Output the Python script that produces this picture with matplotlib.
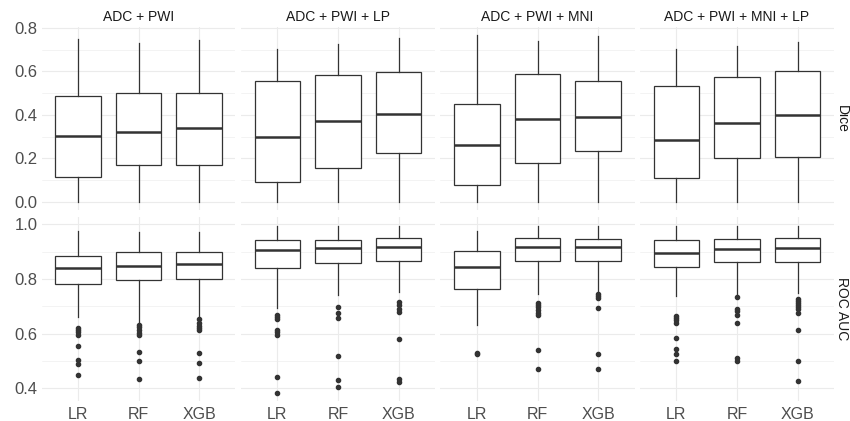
import numpy as np
import matplotlib
matplotlib.use("Agg")
import matplotlib.pyplot as plt

plt.rcParams['font.family'] = ['Liberation Sans', 'DejaVu Sans']

feature_sets = ["ADC + PWI", "ADC + PWI + LP", "ADC + PWI + MNI", "ADC + PWI + MNI + LP"]
models = ["LR", "RF", "XGB"]
metrics = ["Dice", "ROC AUC"]

# Dice box stats, one row per feature set, columns LR / RF / XGB
dice_whislo = [[0.0, 0.0, 0.0], [0.0, 0.0, 0.0], [0.0, 0.0, 0.0], [0.0, 0.0, 0.0]]
dice_q1 = [[0.115, 0.170, 0.170], [0.093, 0.158, 0.227], [0.080, 0.178, 0.236], [0.112, 0.201, 0.208]]
dice_med = [[0.303, 0.323, 0.340], [0.297, 0.374, 0.403], [0.262, 0.382, 0.391], [0.284, 0.362, 0.399]]
dice_q3 = [[0.489, 0.500, 0.500], [0.555, 0.585, 0.599], [0.452, 0.587, 0.558], [0.532, 0.576, 0.601]]
dice_whishi = [[0.748, 0.730, 0.743], [0.702, 0.728, 0.755], [0.766, 0.739, 0.763], [0.703, 0.719, 0.733]]

# ROC AUC box stats
auc_whislo = [[0.662, 0.640, 0.664], [0.693, 0.741, 0.753], [0.633, 0.744, 0.751], [0.739, 0.744, 0.748]]
auc_q1 = [[0.783, 0.796, 0.799], [0.841, 0.860, 0.866], [0.762, 0.865, 0.866], [0.845, 0.862, 0.861]]
auc_med = [[0.840, 0.847, 0.855], [0.906, 0.912, 0.916], [0.843, 0.916, 0.918], [0.895, 0.911, 0.915]]
auc_q3 = [[0.883, 0.898, 0.898], [0.941, 0.944, 0.949], [0.901, 0.951, 0.945], [0.943, 0.946, 0.949]]
auc_whishi = [[0.975, 0.971, 0.971], [0.995, 0.995, 0.995], [0.975, 0.995, 0.995], [0.995, 0.995, 0.995]]
auc_fliers = [
    [[0.622, 0.613, 0.605, 0.595, 0.555, 0.503, 0.489, 0.450],
     [0.633, 0.623, 0.613, 0.602, 0.595, 0.532, 0.500, 0.434],
     [0.655, 0.638, 0.629, 0.620, 0.612, 0.528, 0.491, 0.436]],
    [[0.668, 0.662, 0.655, 0.613, 0.605, 0.595, 0.440, 0.384],
     [0.697, 0.677, 0.657, 0.518, 0.429, 0.406],
     [0.715, 0.704, 0.691, 0.679, 0.580, 0.434, 0.424]],
    [[0.528, 0.525],
     [0.712, 0.704, 0.696, 0.686, 0.676, 0.667, 0.538, 0.471],
     [0.746, 0.738, 0.731, 0.694, 0.524, 0.471]],
    [[0.666, 0.656, 0.648, 0.637, 0.585, 0.544, 0.525, 0.499],
     [0.734, 0.690, 0.681, 0.668, 0.638, 0.512, 0.501],
     [0.727, 0.719, 0.712, 0.704, 0.697, 0.689, 0.677, 0.612, 0.500, 0.425]],
]

dice_stats = (dice_whislo, dice_q1, dice_med, dice_q3, dice_whishi, None)
auc_stats = (auc_whislo, auc_q1, auc_med, auc_q3, auc_whishi, auc_fliers)

W, H = 850, 421
fig = plt.figure(figsize=(W / 100, H / 100), dpi=100)

panel_left, panel_w, panel_gap = 41.5, 194, 5.5
rows = [(27, 210.3), (217.2, 401)]
ylims = [(-0.038, 0.804), (0.353, 1.026)]
major = [[0.0, 0.2, 0.4, 0.6, 0.8], [0.4, 0.6, 0.8, 1.0]]
minor = [[0.1, 0.3, 0.5, 0.7], [0.5, 0.7, 0.9]]

box_col = "#333333"
grid_col = "#EBEBEB"

for r, stats in enumerate([dice_stats, auc_stats]):
    top, bot = rows[r]
    for c, fs in enumerate(feature_sets):
        x0 = panel_left + c * (panel_w + panel_gap)
        ax = fig.add_axes([x0 / W, 1 - bot / H, panel_w / W, (bot - top) / H])
        whislo, q1, med, q3, whishi, fliers = stats
        bstats = []
        for m in range(3):
            bstats.append(dict(whislo=whislo[c][m], q1=q1[c][m], med=med[c][m],
                               q3=q3[c][m], whishi=whishi[c][m],
                               fliers=fliers[c][m] if fliers else []))
        ax.bxp(bstats, positions=[1, 2, 3], widths=0.75, patch_artist=True,
               showcaps=False,
               boxprops=dict(facecolor="white", edgecolor=box_col, linewidth=0.9),
               whiskerprops=dict(color=box_col, linewidth=0.9),
               medianprops=dict(color=box_col, linewidth=1.8),
               flierprops=dict(marker="o", markersize=3.0, markerfacecolor=box_col,
                               markeredgecolor=box_col, linestyle="none"),
               zorder=3)
        ax.set_xlim(0.4, 3.6)
        ax.set_ylim(*ylims[r])
        for y in major[r]:
            ax.axhline(y, color=grid_col, lw=0.8, zorder=0)
        for y in minor[r]:
            ax.axhline(y, color=grid_col, lw=0.4, zorder=0)
        for x in [1, 2, 3]:
            ax.axvline(x, color=grid_col, lw=0.8, zorder=0)
        for s in ax.spines.values():
            s.set_visible(False)
        ax.tick_params(length=0, labelsize=12, labelcolor="#4D4D4D", pad=3)
        ax.tick_params(axis="x", labelsize=11.5, pad=4)
        if c == 0:
            ax.set_yticks(major[r])
            ax.set_yticklabels([f"{v:.1f}" for v in major[r]])
        else:
            ax.set_yticks([])
        if r == 1:
            ax.set_xticks([1, 2, 3])
            ax.set_xticklabels(models)
        else:
            ax.set_xticks([])
        if r == 0:
            ax.set_title(fs, fontsize=10, color="#1A1A1A", pad=4)

    # right-hand strip label
    fig.text(849 / W, 1 - (top + bot) / 2 / H, metrics[r], rotation=-90,
             ha="right", va="center", fontsize=10, color="#1A1A1A")

fig.savefig("out.png", dpi=100)
